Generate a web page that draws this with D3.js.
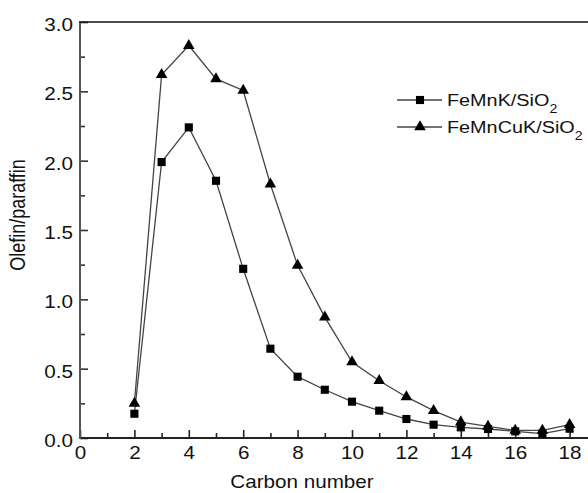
<!DOCTYPE html>
<html>
<head>
<meta charset="utf-8">
<script src="https://cdn.jsdelivr.net/npm/d3@7"></script>
<style>
  body { margin: 0; background: #fff; }
  svg { display: block; font-family: "Liberation Sans", Arial, sans-serif; }
</style>
</head>
<body>
<div id="chart"></div>
<script>
// carbon numbers and olefin/paraffin ratios
const carbon = [2, 3, 4, 5, 6, 7, 8, 9, 10, 11, 12, 13, 14, 15, 16, 17, 18];
const femnk = [0.175, 1.99, 2.24, 1.855, 1.22, 0.644, 0.442, 0.348, 0.262, 0.197, 0.137, 0.096, 0.077, 0.065, 0.048, 0.031, 0.067];
const femncuk = [0.25, 2.62, 2.83, 2.59, 2.506, 1.83, 1.245, 0.872, 0.548, 0.413, 0.296, 0.197, 0.115, 0.084, 0.055, 0.055, 0.096];
const xTicks = [0, 2, 4, 6, 8, 10, 12, 14, 16, 18];
const yTicks = [0, 0.5, 1.0, 1.5, 2.0, 2.5, 3.0];

const width = 588, height = 493;
const margin = {left: 80, top: 22, bottom: 55};
const fontSize = 17.5;
const stretch = 1.18; // the original's text is a bit wide

const svg = d3.select("#chart").append("svg")
  .attr("width", width)
  .attr("height", height);

const x = d3.scaleLinear().domain([0, 20]).range([margin.left, margin.left + 27.2 * 20]);
const y = d3.scaleLinear().domain([0, 3]).range([height - margin.bottom, margin.top]);

// widen a text element around its anchor
function widen(sel) {
  sel.each(function() {
    const t = d3.select(this);
    const tx = +t.attr("x") || 0;
    const ty = +t.attr("y") || 0;
    t.attr("x", 0).attr("y", 0)
      .attr("transform", "translate(" + tx + "," + ty + ") scale(" + stretch + ",1)");
  });
}

//////////
// AXES //
//////////

// minor ticks, pointing inward
svg.append("g")
  .attr("transform", "translate(0," + y(0) + ")")
  .call(d3.axisTop(x).tickValues(d3.range(1, 20, 2)).tickSize(5).tickFormat(""))
  .call(g => g.select(".domain").remove())
  .call(g => g.selectAll("line").attr("stroke", "#222").attr("stroke-width", 1.6));

svg.append("g")
  .attr("transform", "translate(" + margin.left + ",0)")
  .call(d3.axisRight(y).tickValues(d3.range(0.25, 3, 0.5)).tickSize(5).tickFormat(""))
  .call(g => g.select(".domain").remove())
  .call(g => g.selectAll("line").attr("stroke", "#333").attr("stroke-width", 1.6));

// major ticks
const xAxis = svg.append("g")
  .attr("transform", "translate(0," + y(0) + ")")
  .call(d3.axisBottom(x).tickValues(xTicks).tickSize(0).tickPadding(9).tickFormat(d3.format("d")))
  .call(g => g.select(".domain").remove());
xAxis.selectAll(".tick text")
  .style("font-size", fontSize + "px").attr("fill", "#111")
  .call(widen);
xAxis.selectAll(".tick").append("line")
  .attr("y2", -8).attr("stroke", "#222").attr("stroke-width", 1.6);

const yAxis = svg.append("g")
  .attr("transform", "translate(" + margin.left + ",0)")
  .call(d3.axisLeft(y).tickValues(yTicks).tickSize(0).tickPadding(7).tickFormat(d3.format(".1f")))
  .call(g => g.select(".domain").remove());
yAxis.selectAll(".tick text")
  .style("font-size", fontSize + "px").attr("fill", "#111")
  .attr("y", 3)
  .call(widen);
yAxis.selectAll(".tick").append("line")
  .attr("x2", 8).attr("stroke", "#333").attr("stroke-width", 1.6);

// frame lines
svg.append("line")
  .attr("x1", margin.left).attr("x2", width)
  .attr("y1", y(0)).attr("y2", y(0))
  .attr("stroke", "#222").attr("stroke-width", 2);
svg.append("line")
  .attr("x1", margin.left).attr("x2", margin.left)
  .attr("y1", y(0) + 1).attr("y2", y(3))
  .attr("stroke", "#555").attr("stroke-width", 2);
svg.append("line")
  .attr("x1", margin.left - 1).attr("x2", width)
  .attr("y1", y(3)).attr("y2", y(3))
  .attr("stroke", "#111").attr("stroke-width", 1.6);

// axis titles
svg.append("text")
  .attr("x", 302).attr("y", 488)
  .attr("text-anchor", "middle")
  .style("font-size", fontSize + "px").attr("fill", "#111")
  .text("Carbon number")
  .call(widen);

svg.append("text")
  .attr("transform", "translate(25,215) scale(" + stretch + ",1) rotate(-90)")
  .attr("text-anchor", "middle")
  .style("font-size", "18px").attr("fill", "#111")
  .text("Olefin/paraffin");

////////////
// SERIES //
////////////

const line = d3.line()
  .x((d) => x(d[0]))
  .y((d) => y(d[1]));

const series = [
  {name: "FeMnK", values: femnk, symbol: d3.symbolSquare, size: 66},
  {name: "FeMnCuK", values: femncuk, symbol: d3.symbolTriangle, size: 58}
];

series.forEach((s) => {
  const pts = carbon.map((c, i) => [c, s.values[i]]);
  svg.append("path")
    .datum(pts)
    .attr("fill", "none")
    .attr("stroke", "#444")
    .attr("stroke-width", 1.3)
    .attr("d", line);

  svg.selectAll(".pt-" + s.name)
    .data(pts)
    .enter().append("path")
    .attr("class", "pt-" + s.name)
    .attr("transform", (d) => "translate(" + x(d[0]) + "," + y(d[1]) + ")")
    .attr("d", d3.symbol().type(s.symbol).size(s.size))
    .attr("fill", "#000");
});

////////////
// LEGEND //
////////////

const legend = svg.append("g");
series.forEach((s, i) => {
  const ly = 100 + i * 27;
  legend.append("line")
    .attr("x1", 397).attr("x2", 442)
    .attr("y1", ly).attr("y2", ly)
    .attr("stroke", "#444").attr("stroke-width", 1.3);
  legend.append("path")
    .attr("transform", "translate(420," + ly + ")")
    .attr("d", d3.symbol().type(s.symbol).size(s.size))
    .attr("fill", "#000");
  const t = legend.append("text")
    .attr("transform", "translate(447," + (ly + 5.5) + ") scale(" + stretch + ",1)")
    .style("font-size", "16.8px").attr("fill", "#111");
  t.append("tspan").text(s.name + "/SiO");
  t.append("tspan").attr("dy", 7).style("font-size", "12px").text("2");
});
</script>
</body>
</html>
